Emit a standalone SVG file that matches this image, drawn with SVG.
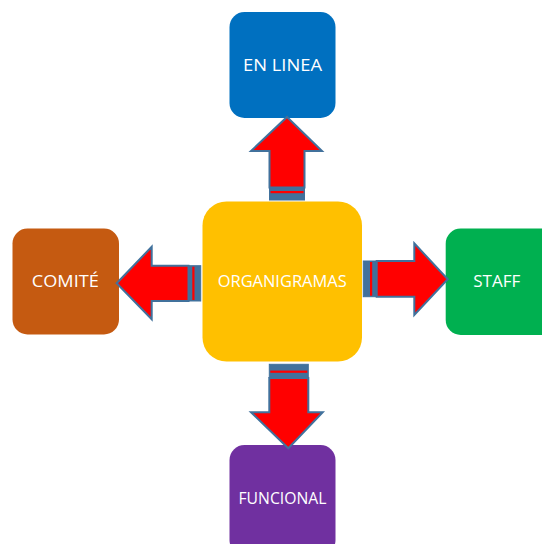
<svg xmlns="http://www.w3.org/2000/svg" width="542" height="544" viewBox="0 0 542 544">
<style>
.lbl{font-family:"Open Sans","Noto Sans","Liberation Sans",sans-serif;font-size:17px;fill:#ffffff;text-anchor:middle}
.arr{fill:#ff0000;stroke:#41719c;stroke-width:2;stroke-linejoin:miter}
.band{fill:#41719c;stroke:#41719c;stroke-width:1}
.stripe{fill:#ff0000}
</style>
<rect width="542" height="544" fill="#ffffff"/>
<g id="node-enlinea">
<rect x="229.5" y="12" width="106" height="106" rx="15" fill="#0070c0"/>
<text class="lbl" x="282.5" y="71" textLength="79" lengthAdjust="spacingAndGlyphs">EN LINEA</text>
</g>
<g id="node-comite">
<rect x="12.5" y="228.5" width="106.5" height="106" rx="15" fill="#c55a11"/>
<text class="lbl" x="65.3" y="287" textLength="67" lengthAdjust="spacingAndGlyphs">COMITÉ</text>
</g>
<g id="node-staff">
<rect x="445.7" y="228.5" width="110" height="106.5" rx="15" fill="#00b050"/>
<text class="lbl" x="496.7" y="287" textLength="47" lengthAdjust="spacingAndGlyphs">STAFF</text>
</g>
<g id="node-funcional">
<rect x="229.5" y="445" width="106" height="110" rx="15" fill="#7030a0"/>
<text class="lbl" x="282.5" y="504" textLength="88" lengthAdjust="spacingAndGlyphs">FUNCIONAL</text>
</g>
<g id="node-organigramas">
<rect x="202.5" y="201.5" width="159.5" height="160" rx="24" fill="#ffc000"/>
<text class="lbl" x="282.2" y="287" textLength="129" lengthAdjust="spacingAndGlyphs">ORGANIGRAMAS</text>
</g>
<g id="connectors">
<g id="arrow-up">
<rect class="band" x="269.5" y="188" width="35" height="12"/>
<rect class="stripe" x="270.5" y="191" width="33" height="2.2"/>
<polygon class="arr" points="287,117 322,151 304.5,151 304.5,187.5 269.5,187.5 269.5,151 251,151"/>
</g>
<g id="arrow-left">
<rect class="band" x="189" y="265.7" width="11.7" height="35.3"/>
<rect class="stripe" x="192.3" y="266.7" width="2.2" height="33.3"/>
<polygon class="arr" points="116.7,283.3 151.7,246.7 151.7,265.7 188.5,265.7 188.5,301 151.7,301 151.7,319.3"/>
</g>
<g id="arrow-right">
<rect class="band" x="363.3" y="261" width="13" height="35.7"/>
<rect class="stripe" x="370" y="262" width="2.2" height="33.7"/>
<polygon class="arr" points="447.7,279.3 414.3,243.3 414.3,261 376.7,261 376.7,296.7 414.3,296.7 414.3,315"/>
</g>
<g id="arrow-down">
<rect class="band" x="269.3" y="364.3" width="39" height="13.3"/>
<rect class="stripe" x="270.3" y="370.6" width="37" height="2.2"/>
<polygon class="arr" points="269.3,378 308.3,378 308.3,412.3 322.7,412.3 288.3,448.3 251,412.3 269.3,412.3"/>
</g>
</g>
</svg>
